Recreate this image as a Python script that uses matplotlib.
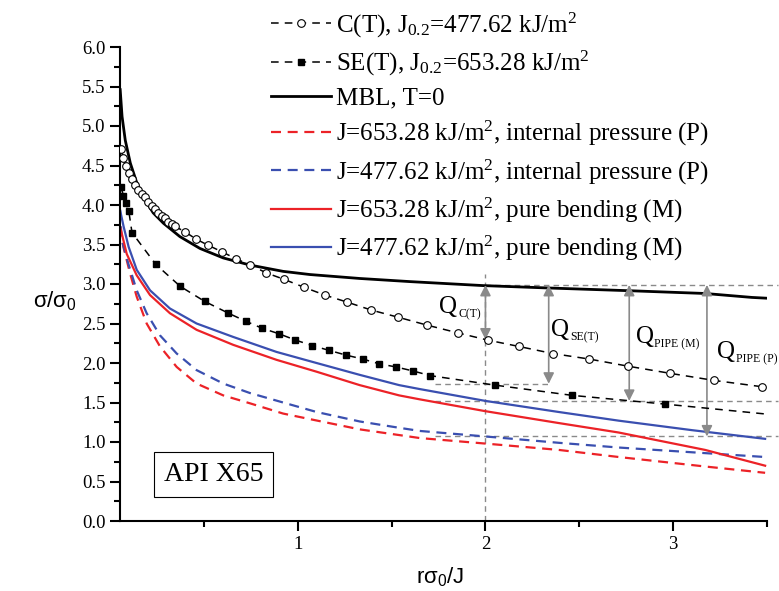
import numpy as np
import matplotlib
matplotlib.use('Agg')
import matplotlib.pyplot as plt
from matplotlib.ticker import MultipleLocator, FixedLocator

plt.rcParams['font.family'] = ['Liberation Serif', 'DejaVu Serif']
plt.rcParams['mathtext.fontset'] = 'custom'
plt.rcParams['mathtext.rm'] = 'Liberation Serif'
plt.rcParams['mathtext.it'] = 'Liberation Serif:italic'
plt.rcParams['mathtext.sf'] = 'Liberation Sans'

# curves (x = r*sigma0/J, y = sigma/sigma0)
mbl_x = [0.054, 0.064, 0.081, 0.108, 0.144, 0.188, 0.23, 0.284, 0.372, 0.479, 0.603,
         0.745, 0.922, 1.064, 1.33, 1.6, 1.986, 2.33, 2.766, 3.17, 3.42, 3.5]
mbl_y = [5.46, 5.12, 4.82, 4.53, 4.27, 4.06, 3.90, 3.77, 3.60, 3.45, 3.33,
         3.24, 3.16, 3.12, 3.07, 3.03, 2.98, 2.95, 2.915, 2.88, 2.83, 2.82]

ct_x = [0.058, 0.071, 0.084, 0.101, 0.116, 0.133, 0.15, 0.168, 0.186, 0.204, 0.221,
        0.239, 0.257, 0.275, 0.293, 0.31, 0.328, 0.345, 0.40, 0.457, 0.523, 0.594,
        0.67, 0.748, 0.833, 0.926, 1.032, 1.144, 1.264, 1.392, 1.534, 1.688, 1.855,
        2.012, 2.177, 2.358, 2.553, 2.759, 2.982, 3.216, 3.472]
ct_y = [4.71, 4.59, 4.50, 4.41, 4.33, 4.25, 4.19, 4.14, 4.10, 4.04, 3.99,
        3.95, 3.90, 3.86, 3.83, 3.79, 3.76, 3.73, 3.66, 3.57, 3.49, 3.41,
        3.32, 3.24, 3.14, 3.06, 2.96, 2.86, 2.77, 2.67, 2.58, 2.48, 2.38,
        2.29, 2.21, 2.12, 2.05, 1.96, 1.87, 1.78, 1.70]

se_x = [0.058, 0.071, 0.084, 0.10, 0.117, 0.243, 0.374, 0.504, 0.631, 0.722, 0.81,
        0.90, 0.988, 1.078, 1.167, 1.257, 1.346, 1.434, 1.523, 1.613, 1.706, 2.05,
        2.463, 2.956, 3.49]
se_y = [4.23, 4.12, 4.02, 3.92, 3.65, 3.25, 2.97, 2.78, 2.63, 2.53, 2.44,
        2.37, 2.29, 2.22, 2.16, 2.10, 2.05, 1.99, 1.95, 1.90, 1.84, 1.72,
        1.59, 1.48, 1.355]

pr_x = [0.053, 0.071, 0.106, 0.142, 0.195, 0.266, 0.355, 0.461, 0.603, 0.745, 0.922,
        1.064, 1.33, 1.65, 2.0, 2.39, 2.71, 3.17, 3.49]
pr_y = [3.73, 3.47, 3.14, 2.84, 2.50, 2.21, 1.95, 1.74, 1.59, 1.49, 1.36,
        1.29, 1.16, 1.05, 0.98, 0.90, 0.81, 0.69, 0.61]

pb_x = [0.053, 0.062, 0.097, 0.142, 0.195, 0.266, 0.355, 0.461, 0.603, 0.745, 0.922,
        1.10, 1.33, 1.54, 1.65, 2.0, 2.39, 2.71, 3.49]
pb_y = [3.94, 3.56, 3.26, 2.92, 2.63, 2.35, 2.12, 1.91, 1.74, 1.62, 1.50,
        1.38, 1.26, 1.18, 1.14, 1.07, 0.99, 0.93, 0.81]

mr_x = [0.053, 0.089, 0.142, 0.213, 0.319, 0.461, 0.656, 0.887, 1.10, 1.33, 1.54,
        1.65, 2.0, 2.39, 2.71, 3.17, 3.49]
mr_y = [3.73, 3.38, 3.11, 2.86, 2.63, 2.42, 2.23, 2.04, 1.89, 1.72, 1.59,
        1.54, 1.39, 1.24, 1.12, 0.90, 0.70]

mb_x = [0.053, 0.072, 0.099, 0.142, 0.213, 0.319, 0.461, 0.656, 0.887, 1.10, 1.33,
        1.54, 1.65, 2.0, 2.39, 2.71, 3.1, 3.49]
mb_y = [3.94, 3.73, 3.47, 3.18, 2.92, 2.69, 2.50, 2.33, 2.14, 2.00, 1.85,
        1.72, 1.67, 1.52, 1.38, 1.27, 1.15, 1.04]

labels = [r'C(T), J$_\mathrm{0.2}$=477.62 kJ/m$^\mathrm{2}$',
          r'SE(T), J$_\mathrm{0.2}$=653.28 kJ/m$^\mathrm{2}$',
          'MBL, T=0',
          r'J=653.28 kJ/m$^\mathrm{2}$, internal pressure (P)',
          r'J=477.62 kJ/m$^\mathrm{2}$, internal pressure (P)',
          r'J=653.28 kJ/m$^\mathrm{2}$, pure bending (M)',
          r'J=477.62 kJ/m$^\mathrm{2}$, pure bending (M)']

q_x = [2.0, 2.337, 2.766, 3.18]
q_subs = ['C(T)', 'SE(T)', 'PIPE (M)', 'PIPE (P)']

red = '#ec2227'
blue = '#3a4fb0'
grey = '#8a8a8a'

fig = plt.figure(figsize=(7.79, 5.91), dpi=100)
ax = fig.add_axes([120/779, 1-521/591, 647/779, 474/591])

ax.plot(ct_x, ct_y, color='black', lw=1.1, ls=(0, (5, 4)), marker='o', ms=5.5,
        mfc='white', mec='black', mew=0.8, label=labels[0], zorder=4)
ax.plot(se_x, se_y, color='black', lw=1.1, ls=(0, (5, 4)), marker='s', ms=5,
        mfc='black', mec='black', markevery=list(range(len(se_x)-1)),
        label=labels[1], zorder=4)
ax.plot(mbl_x, mbl_y, color='black', lw=2.0, label=labels[2], zorder=3)
ax.plot(pr_x, pr_y, color=red, lw=1.6, ls=(0, (4.5, 3)), label=labels[3])
ax.plot(pb_x, pb_y, color=blue, lw=1.6, ls=(0, (4.5, 3)), label=labels[4])
ax.plot(mr_x, mr_y, color=red, lw=1.6, label=labels[5])
ax.plot(mb_x, mb_y, color=blue, lw=1.6, label=labels[6])

# Q constraint annotations
top = np.interp(2.0, mbl_x, mbl_y) + 0.01
lows = [np.interp(2.0, ct_x, ct_y), np.interp(2.0, se_x, se_y),
        np.interp(2.0, mb_x, mb_y), np.interp(2.0, pb_x, pb_y)]
dash = dict(color=grey, lw=1.0, ls=(0, (4, 3)), clip_on=False, zorder=1)
ax.plot([2.0, 2.0], [0, 3.13], **dash)
ax.plot([2.0, 3.56], [top, top], **dash)
ax.plot([1.73, q_x[1]], [lows[1], lows[1]], **dash)
ax.plot([1.73, 3.56], [lows[2], lows[2]], **dash)
ax.plot([1.73, 3.56], [lows[3], lows[3]], **dash)
for xq, lo in zip(q_x, lows):
    ax.annotate('', xy=(xq, lo), xytext=(xq, top),
                arrowprops=dict(arrowstyle='<|-|>', color=grey, lw=1.2,
                                mutation_scale=16, shrinkA=0, shrinkB=0))
q_pos = [(1.755, 2.71), (2.35, 2.42), (2.80, 2.33), (3.235, 2.14)]
for (tx, ty), sub in zip(q_pos, q_subs):
    ax.text(tx, ty, 'Q', fontsize=18, ha='left', va='center')
    ax.annotate(sub, xy=(tx, ty), xytext=(13.4, -5.5), textcoords='offset points',
                fontsize=8.5, ha='left', va='center')

ax.text(0.553, 0.59, 'API X65', fontsize=20, ha='center', va='center',
        bbox=dict(boxstyle='square,pad=0.35', fc='white', ec='black', lw=0.8))

ax.set_xlim(0.053, 3.5)
ax.set_ylim(0, 6.0)
ax.spines['top'].set_visible(False)
ax.spines['right'].set_visible(False)
ax.spines['left'].set_linewidth(1.5)
ax.spines['bottom'].set_linewidth(1.5)
ax.xaxis.set_major_locator(FixedLocator([1, 2, 3]))
ax.xaxis.set_minor_locator(FixedLocator([0.5, 1.5, 2.5, 3.5]))
ax.yaxis.set_major_locator(MultipleLocator(0.5))
ax.yaxis.set_minor_locator(MultipleLocator(0.25))
ax.yaxis.set_major_formatter(matplotlib.ticker.FormatStrFormatter('%.1f'))
ax.tick_params(which='major', direction='out', length=7, width=1.5, labelsize=13.5)
ax.tick_params(which='minor', direction='out', length=4.5, width=1.5)

ax.set_ylabel(r'σ/σ$_\mathsf{0}$', family='Liberation Sans', fontsize=16,
              rotation=0, ha='center', va='center')
ax.yaxis.set_label_coords(-0.10, 0.466)
ax.set_xlabel(r'rσ$_\mathsf{0}$/J', family='Liberation Sans', fontsize=16, va='center')
ax.xaxis.set_label_coords(0.495, -0.118)

ax.legend(loc='upper left', bbox_to_anchor=(268/779, 1 - 8/591), bbox_transform=fig.transFigure,
          frameon=False, fontsize=18, handlelength=2.4, handletextpad=0.2,
          labelspacing=0.37, borderpad=0.1, borderaxespad=0)

plt.savefig('out.png', dpi=100)
